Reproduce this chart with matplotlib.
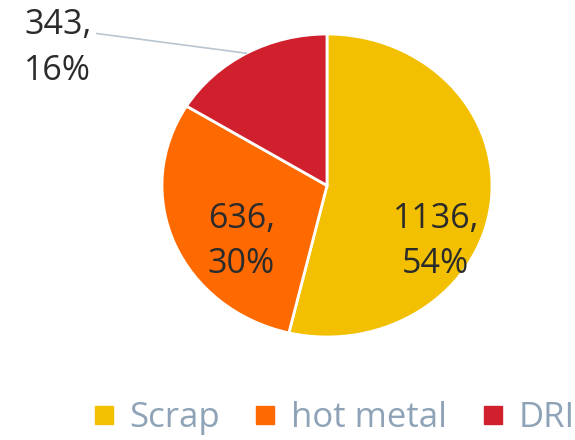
import matplotlib.pyplot as plt
from matplotlib.lines import Line2D
import numpy as np

plt.rcParams['font.family'] = ['Open Sans', 'DejaVu Sans']

categories = ['Scrap', 'hot metal', 'DRI']
values = [1136, 636, 343]
percents = ['54%', '30%', '16%']
colors = ['#f2c000', '#ff6a00', '#d0202e']

text_color = '#2b2b2b'
legend_text = '#8ea3b7'

W, H = 575, 440
fig = plt.figure(figsize=(W / 100, H / 100), dpi=100)

# pie is slightly wider than tall in the reference
left, right, top, bottom = 162, 492, 34, 337
ax = fig.add_axes([left / W, 1 - bottom / H, (right - left) / W, (bottom - top) / H])
wedges, _ = ax.pie(values, colors=colors, startangle=90, counterclock=False,
                   wedgeprops=dict(edgecolor='white', linewidth=2))
ax.set_aspect('auto')
ax.set_xlim(-1, 1)
ax.set_ylim(-1, 1)

labels = [f'{v},\n{p}' for v, p in zip(values, percents)]
fs = 24.5
ls = 1.45

# inside labels for Scrap and hot metal
ax.text(0.66, -0.37, labels[0], ha='center', va='center', fontsize=fs,
        color=text_color, linespacing=ls)
ax.text(-0.52, -0.37, labels[1], ha='center', va='center', fontsize=fs,
        color=text_color, linespacing=ls)

# outside label for DRI with leader line to wedge middle
w = wedges[2]
mid = np.deg2rad((w.theta1 + w.theta2) / 2)
ax.annotate(labels[2], xy=(np.cos(mid), np.sin(mid)), xytext=(24, 440 - 8),
            textcoords='figure pixels', ha='left', va='top', fontsize=fs,
            color=text_color, linespacing=ls, annotation_clip=False,
            arrowprops=dict(arrowstyle='-', color='#b8c6d2', lw=1.2,
                            shrinkA=0, shrinkB=0, relpos=(1.08, 0.68)))

handles = [Line2D([], [], marker='s', linestyle='', markersize=13,
                  markerfacecolor=c, markeredgecolor=c) for c in colors]
leg = fig.legend(handles, categories, loc='center', ncol=3, frameon=False,
                 bbox_to_anchor=(334 / W, 1 - 418 / H), fontsize=25,
                 handlelength=0.6, handletextpad=0.45, columnspacing=1.0)
for t in leg.get_texts():
    t.set_color(legend_text)

fig.savefig('out.png', dpi=100)
